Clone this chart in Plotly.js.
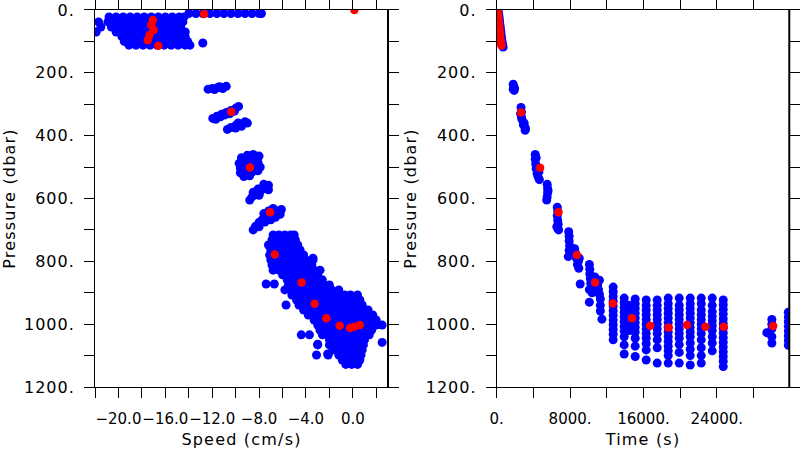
<!DOCTYPE html>
<html><head><meta charset="utf-8">
<script src="https://cdn.plot.ly/plotly-3.0.1.min.js"></script>
<style>
html,body{margin:0;padding:0;background:#fff}
#chart{width:800px;height:450px}
.yaxislayer-above text{letter-spacing:1px}
text.xtitle,text.x2title,text.ytitle,text.y2title{letter-spacing:1.2px}
</style></head><body><div id="chart"></div>
<script>
// ---------- Left panel: speed vs pressure ----------
// dense blobs, one row per pressure level
const leftRowPres = [11, 22, 38, 54, 70, 85, 100, 112,
  716, 732, 748, 764, 780, 796, 812, 828, 843, 859, 872, 875, 891, 907, 923, 939, 955, 971, 987, 1003, 1019, 1034, 1050, 1058, 1066, 1082, 1098, 1114, 1128];
const leftRowSpeed = [
  [-14.0, -13.4, -12.8, -12.2, -11.6, -11.0, -10.4, -9.8, -9.2, -8.6, -8.0, -7.8],
  [-20.8, -20.2, -19.6, -19.0, -18.4, -17.8, -17.2, -16.6, -16.0, -15.4, -14.8, -14.4],
  [-21.7, -20.9, -20.3, -19.7, -19.1, -18.5, -17.9, -17.3, -16.7, -16.1, -15.5, -14.9, -14.5],
  [-21.5, -20.6, -20.0, -19.4, -18.8, -18.2, -17.6, -17.0, -16.4, -15.8, -15.2, -14.7],
  [-21.9, -20.2, -19.6, -19.0, -18.4, -17.8, -17.2, -16.6, -16.0, -15.4, -14.8, -14.3],
  [-19.7, -19.1, -18.5, -17.9, -17.3, -16.7, -16.1, -15.5, -14.9, -14.3],
  [-19.5, -18.9, -18.3, -17.7, -17.1, -16.5, -15.9, -15.3, -14.7, -14.1],
  [-19.1, -18.5, -17.9, -17.3, -16.7, -16.1, -15.5, -14.9, -14.3, -13.9],
  [-6.8, -6.3, -5.8, -5.3, -5.0],
  [-6.9, -6.4, -5.9, -5.4, -4.9],
  [-7.2, -6.6, -6.1, -5.6, -5.1, -4.7],
  [-7.0, -6.5, -6.0, -5.5, -5.0, -4.5],
  [-7.1, -6.5, -6.0, -5.5, -5.0, -4.5, -4.2],
  [-7.0, -6.5, -6.0, -5.5, -5.0, -4.5, -4.0, -3.4],
  [-6.9, -6.4, -5.9, -5.4, -4.9, -4.4, -3.9, -3.5],
  [-6.8, -6.3, -5.8, -5.3, -4.8, -4.3, -3.8, -3.3, -2.8],
  [-6.0, -5.5, -5.0, -4.5, -4.0, -3.5, -3.0],
  [-5.6, -5.1, -4.6, -4.1, -3.6, -3.1, -2.6],
  [-7.4, -6.7],
  [-5.5, -5.0, -4.5, -4.0, -3.5, -3.0, -2.5, -2.0],
  [-5.8, -5.3, -4.8, -4.3, -3.8, -3.3, -2.8, -2.3, -1.8, -1.2],
  [-5.2, -4.7, -4.2, -3.7, -3.2, -2.7, -2.2, -1.7, -1.2, -0.7, -0.2, 0.4],
  [-4.8, -4.3, -3.8, -3.3, -2.8, -2.3, -1.8, -1.3, -0.8, -0.3, 0.2, 0.6],
  [-5.7, -4.6, -4.1, -3.6, -3.1, -2.6, -2.1, -1.6, -1.1, -0.6, -0.1, 0.4, 0.8],
  [-4.2, -3.7, -3.2, -2.7, -2.2, -1.7, -1.2, -0.7, -0.2, 0.3, 0.8, 1.3],
  [-3.8, -3.3, -2.8, -2.3, -1.8, -1.3, -0.8, -0.3, 0.2, 0.7, 1.2, 1.7],
  [-3.3, -2.8, -2.3, -1.8, -1.3, -0.8, -0.3, 0.2, 0.7, 1.2, 1.7, 2.0],
  [-3.0, -2.5, -2.0, -1.5, -1.0, -0.5, 0.0, 0.5, 1.0, 1.5, 2.0, 2.5],
  [-2.8, -2.3, -1.8, -1.3, -0.8, -0.3, 0.2, 0.7, 1.2, 1.6],
  [-4.4, -3.7, -2.6, -2.1, -1.6, -1.1, -0.6, -0.1, 0.4, 0.9, 1.4],
  [-2.0, -1.5, -1.0, -0.5, 0.0, 0.5, 1.0],
  [2.5],
  [-3.0, -2.0, -1.5, -1.0, -0.5, 0.0, 0.5, 0.9],
  [-1.7, -1.2, -0.7, -0.2, 0.3, 0.8],
  [-3.1, -2.1, -1.2, -0.7, -0.2, 0.3, 0.7],
  [-0.9, -0.4, 0.1, 0.6],
  [-0.6, -0.1, 0.4]
];
// separate small clusters (speed, pressure pairs)
const leftBlueSpeed = [-12.8,
  -12.35, -12.0, -11.6, -11.2, -10.8, -11.1, -11.8, -11.4,
  -11.95, -11.6, -11.2, -10.8, -10.4, -10.0, -9.75, -11.3, -10.9, -10.5, -10.1, -11.7,
  -10.7, -10.4, -10.0, -9.6, -9.2, -9.0, -9.5, -10.0, -9.8,
  -9.5, -9.0, -8.5, -8.0, -9.7, -9.2, -8.6, -8.1, -9.6, -9.2, -8.3, -7.9, -9.6, -9.1, -8.6, -8.1, -9.3, -8.8,
  -8.8, -8.6, -8.3, -7.9, -7.5, -7.2, -7.6, -8.1, -8.5, -7.2, -8.0,
  -8.5, -8.3, -8.0, -7.7, -7.3, -6.9, -6.5, -6.1, -6.2, -6.6, -7.0, -7.5, -8.0, -7.6, -7.2, -6.8,
  -3.4, -3.0, -2.15];
const leftBluePres = [105,
  252, 250, 248, 246, 243, 250, 253, 244,
  345, 338, 332, 326, 320, 313, 307, 340, 334, 330, 322, 348,
  380, 374, 368, 362, 356, 360, 370, 376, 360,
  470, 462, 460, 465, 488, 482, 480, 485, 503, 500, 498, 500, 518, 520, 516, 512, 530, 528,
  605, 595, 588, 578, 568, 558, 555, 570, 580, 572, 590,
  700, 688, 676, 666, 656, 648, 640, 635, 650, 660, 668, 675, 690, 648, 640, 632,
  790, 1064, 1095];
const leftRedSpeed = [-17.06, -17.2, -17.0, -17.35, -17.5, -16.6, -12.7, 0.13, -10.37, -8.78, -7.06, -6.66, -4.37, -3.26, -2.26, -1.12, -0.24, 0.13, 0.6];
const leftRedPres = [32, 48, 64, 80, 96, 114, 13, 0, 324, 501, 644, 778, 867, 935, 981, 1005, 1012, 1008, 1003];

// ---------- Right panel: time vs pressure ----------
const rightBlueTime = [150, 200, 250, 290, 330, 370, 410, 450, 490, 530, 580, 640, 700,
  1800, 1850, 1900, 1950, 1800,
  2650, 2700, 2700, 2600, 2750, 3000, 3050, 3100, 2900, 3150,
  4200, 4200, 4250, 4300, 4400, 4500, 4650, 4400, 4600, 4300,
  5500, 5550, 5550, 5500, 5450, 5600,
  6600, 6650, 6600, 6650, 6700, 6650, 6550, 6750,
  7850, 7900, 7900, 7950, 7900, 7800, 8300, 8600, 8700, 8900, 8800, 8950, 9000, 8500, 8200,
  9100, 10100, 10150, 10150, 10200, 10250, 10300, 10400, 10500, 10700, 10900, 11000, 11100, 11200, 11300, 11200, 10100, 11470, 10100, 11300, 11300];
const rightBluePres = [0, 10, 20, 30, 40, 50, 60, 70, 80, 90, 100, 110, 118,
  236, 246, 256, 250, 252,
  310, 325, 340, 330, 348, 360, 372, 383, 365, 378,
  460, 475, 490, 505, 520, 530, 540, 500, 515, 470,
  555, 568, 582, 595, 605, 575,
  628, 640, 655, 670, 682, 695, 690, 700,
  706, 720, 735, 750, 765, 785, 760, 775, 790, 800, 810, 822, 790, 760, 770,
  872, 810, 825, 840, 855, 870, 885, 900, 875, 850, 860, 875, 890, 905, 920, 860, 890, 984, 930, 940, 958];
// bottom-phase columns: one time per column, many pressures
const rightColTime = [12700, 13900, 14500, 15100, 16300, 17500, 18700, 19900, 21100, 22300, 23500, 24700, 29450, 30000, 31800];
const rightColPres = [
  [882, 897, 912, 927, 942, 957, 972, 987, 1002, 1017, 1032, 1050],
  [917, 932, 947, 962, 977, 992, 1007, 1022, 1040, 1066, 1095],
  [940, 960, 980, 1000, 1020],
  [920, 935, 950, 965, 980, 995, 1010, 1025, 1045, 1070, 1103],
  [923, 940, 955, 970, 985, 1000, 1015, 1030, 1045, 1062, 1082, 1114],
  [923, 940, 955, 970, 985, 1000, 1015, 1030, 1050, 1075, 1124],
  [917, 935, 950, 965, 980, 995, 1010, 1025, 1040, 1055, 1070, 1085, 1100, 1124],
  [917, 940, 955, 970, 985, 1000, 1015, 1030, 1045, 1065, 1090, 1124],
  [917, 935, 950, 965, 980, 995, 1010, 1025, 1040, 1060, 1080, 1100, 1130],
  [917, 935, 955, 970, 985, 1000, 1015, 1030, 1050, 1075, 1100, 1124],
  [917, 940, 960, 975, 990, 1005, 1020, 1040, 1060, 1085],
  [923, 938, 953, 968, 983, 998, 1013, 1028, 1043, 1058, 1073, 1088, 1103, 1118, 1135],
  [1027],
  [985, 1000, 1015, 1040, 1060],
  [962, 977, 992, 1007, 1022, 1037, 1052, 1067]
];
const rightRedTime = [100, 130, 170, 200, 230, 260, 300, 330, 370, 400, 440, 480, 520,
  2650, 4730, 6730, 8740, 10730, 12660, 14740, 16740, 18740, 20750, 22750, 24750, 30140];
const rightRedPres = [0, 10, 20, 30, 40, 50, 60, 70, 80, 90, 100, 108, 113,
  326, 502, 644, 780, 867, 934, 981, 1005, 1011, 1003, 1008, 1008, 1006];

// ---------- Axis ticks ----------
const pressTicks = [0, 100, 200, 300, 400, 500, 600, 700, 800, 900, 1000, 1100, 1200];
const pressLabels = ['0.', '', '200.', '', '400.', '', '600.', '', '800.', '', '1000.', '', '1200.'];
const speedTicks = [-22, -20, -18, -16, -14, -12, -10, -8, -6, -4, -2, 0, 2];
const speedLabels = ['', '\u221220.0', '', '\u221216.0', '', '\u221212.0', '', '\u22128.0', '', '\u22124.0', '', '0.0', ''];
const timeTicks = [0, 4000, 8000, 12000, 16000, 20000, 24000, 28000];
const timeLabels = ['0.', '', '8000.', '', '16000.', '', '24000.', ''];

// flatten rows / columns
function flattenRows(keys, rows) {
  const k = [], v = [];
  rows.forEach((r, i) => r.forEach(val => { k.push(keys[i]); v.push(val); }));
  return {k, v};
}
const lr = flattenRows(leftRowPres, leftRowSpeed);
const rc = flattenRows(rightColTime, rightColPres);

const BLUE = '#0000ff', RED = '#ff0000';
const blueMarker = {color: BLUE, size: 9, line: {width: 0}};
const redMarker = {color: RED, size: 8.5, line: {width: 0}};

const traces = [
  {x: lr.v.concat(leftBlueSpeed), y: lr.k.concat(leftBluePres), type: 'scatter', mode: 'markers', marker: blueMarker, xaxis: 'x', yaxis: 'y', hoverinfo: 'skip'},
  {x: leftRedSpeed, y: leftRedPres, type: 'scatter', mode: 'markers', marker: redMarker, xaxis: 'x', yaxis: 'y', hoverinfo: 'skip'},
  {x: rightBlueTime.concat(rc.k), y: rightBluePres.concat(rc.v), type: 'scatter', mode: 'markers', marker: blueMarker, xaxis: 'x2', yaxis: 'y2', hoverinfo: 'skip'},
  {x: rightRedTime, y: rightRedPres, type: 'scatter', mode: 'markers', marker: redMarker, xaxis: 'x2', yaxis: 'y2', hoverinfo: 'skip'}
];

const YFONT = {family: 'DejaVu Sans', size: 16, color: '#000'};
const XFONT = {family: 'DejaVu Sans', size: 15, color: '#000'};
const TFONT = {family: 'DejaVu Sans', size: 16, color: '#000'};
const common = {
  showgrid: false, zeroline: false, showline: true, linecolor: '#000', linewidth: 1,
  ticks: 'outside', ticklen: 10, tickwidth: 1, tickcolor: '#000', mirror: 'ticks',
  tickmode: 'array', fixedrange: true, tickangle: 0
};
const yDom = [0.14, 0.9778];

const layout = {
  width: 800, height: 450,
  margin: {l: 0, r: 0, t: 0, b: 0},
  paper_bgcolor: '#fff', plot_bgcolor: '#fff',
  showlegend: false,
  font: YFONT,
  xaxis: Object.assign({}, common, {domain: [0.11875, 0.485], range: [-22, 3], anchor: 'y',
    tickvals: speedTicks, ticktext: speedLabels, ticklabelstandoff: 8, tickfont: XFONT,
    title: {text: 'Speed (cm/s)', font: TFONT, standoff: 6}}),
  yaxis: Object.assign({}, common, {domain: yDom, range: [1200, 0], anchor: 'x',
    tickvals: pressTicks, ticktext: pressLabels, ticklabelstandoff: 6, tickfont: YFONT,
    title: {text: 'Pressure (dbar)', font: TFONT, standoff: 10}}),
  xaxis2: Object.assign({}, common, {domain: [0.6209, 0.9866], range: [0, 31900], anchor: 'y2',
    tickvals: timeTicks, ticktext: timeLabels, ticklabelstandoff: 8, tickfont: XFONT,
    title: {text: 'Time (s)', font: TFONT, standoff: 6}}),
  yaxis2: Object.assign({}, common, {domain: yDom, range: [1200, 0], anchor: 'x2',
    tickvals: pressTicks, ticktext: pressLabels, ticklabelstandoff: 6, tickfont: YFONT,
    title: {text: 'Pressure (dbar)', font: TFONT, standoff: 10}}),
  shapes: [
    {type: 'line', xref: 'x domain', yref: 'y domain', x0: 1, x1: 1, y0: 0, y1: 1, line: {color: '#000', width: 2}},
    {type: 'line', xref: 'x2 domain', yref: 'y2 domain', x0: 1, x1: 1, y0: 0, y1: 1, line: {color: '#000', width: 2}}
  ]
};

Plotly.newPlot('chart', traces, layout, {displayModeBar: false, staticPlot: true});
</script></body></html>
